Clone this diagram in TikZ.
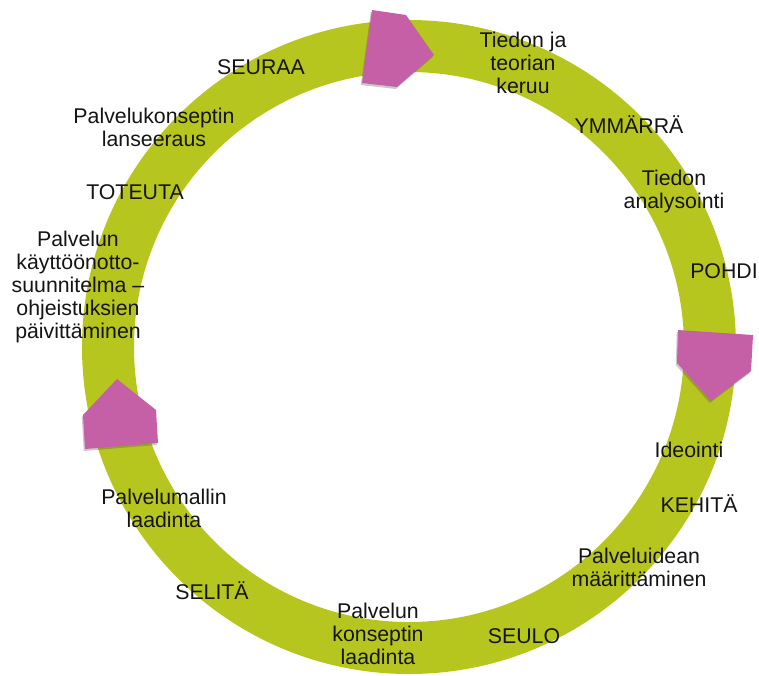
\documentclass[tikz,border=0pt]{standalone}
\usepackage{fontspec}
\setmainfont{Liberation Sans}
\usetikzlibrary{shadows}
\definecolor{ringgreen}{RGB}{183,198,30}
\definecolor{arrowpink}{RGB}{197,96,167}
\begin{document}
\begin{tikzpicture}[x=1pt,y=-1pt,
  lbl/.style={font=\fontsize{21.3}{23}\selectfont, align=center,
              inner sep=0pt, anchor=base, text=black!92},
  pent/.style={fill=arrowpink,
               drop shadow={shadow xshift=-1.2pt, shadow yshift=-2pt,
                            opacity=0.3, fill=black!70}}]
\useasboundingbox (0,0) rectangle (759,675);

% the cycle ring
\fill[ringgreen, even odd rule]
  (409,347) circle[radius=327pt] (409,347) circle[radius=275pt];

% direction arrows on the ring
\fill[pent] (372,10) -- (406,15) -- (434,55) -- (397,87) -- (362,83) -- cycle;
\fill[pent] (678,330) -- (753,335) -- (751,371) -- (711,401) -- (677,363) -- cycle;
\fill[pent] (117,379) -- (156,410) -- (158,443) -- (85,449) -- (83,415) -- cycle;

% phase labels (anchored at the baseline of their last line)
\node[lbl] (keruu)    at (523,93)  {Tiedon ja\\teorian\\keruu};
\node[lbl] (ymmarra)  at (629,133) {YMMÄRRÄ};
\node[lbl] (analyysi) at (674,208) {Tiedon\\analysointi};
\node[lbl] (pohdi)    at (724,278) {POHDI};
\node[lbl] (ideointi) at (689,457) {Ideointi};
\node[lbl] (kehita)   at (699,512) {KEHITÄ};
\node[lbl] (idea)     at (639,586) {Palveluidean\\määrittäminen};
\node[lbl] (seulo)    at (524,643) {SEULO};
\node[lbl] (konsepti) at (378,664) {Palvelun\\konseptin\\laadinta};
\node[lbl] (selita)   at (212,599) {SELITÄ};
\node[lbl] (malli)    at (164,527) {Palvelumallin\\laadinta};
\node[lbl] (kaytto)   at (78,338)  {Palvelun\\käyttöönotto-\\suunnitelma –\\ohjeistuksien\\päivittäminen};
\node[lbl] (toteuta)  at (135,199) {TOTEUTA};
\node[lbl] (lanseer)  at (154,146) {Palvelukonseptin\\lanseeraus};
\node[lbl] (seuraa)   at (261,74)  {SEURAA};
\end{tikzpicture}
\end{document}
